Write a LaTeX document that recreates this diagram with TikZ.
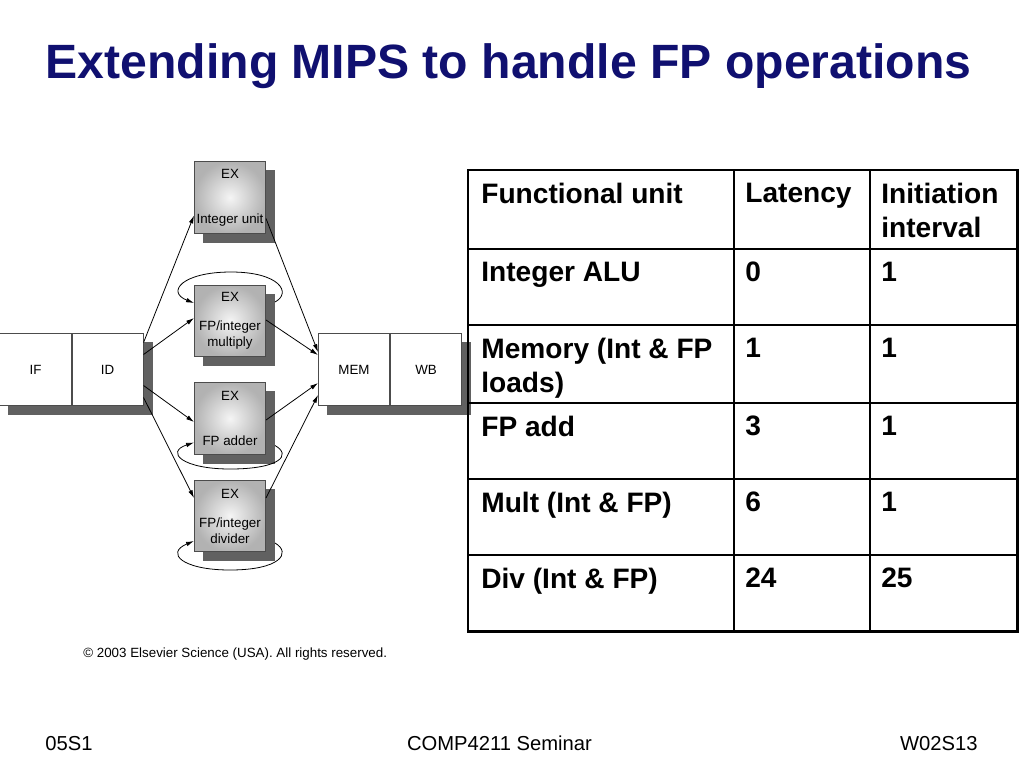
\documentclass[tikz,border=0pt]{standalone}
\usepackage{fontspec}
\setmainfont{Liberation Sans}
\usetikzlibrary{positioning,calc,backgrounds,arrows.meta}
\definecolor{titleblue}{RGB}{16,16,112}
\definecolor{shadowgray}{gray}{0.38}
\tikzset{
	stage/.style={rectangle, draw=black!70, fill=white, line width=0.5pt, minimum width=40.5pt, minimum height=40.5pt, inner sep=0pt, font=\fontsize{7.6}{9.1}\selectfont},
	exunit/.style={stage, align=center, inner color=black!4, outer color=black!30},
	flow/.style={-{Latex[length=4.5pt,width=2.6pt]}, line width=0.45pt},
	cell/.style={anchor=north west, inner sep=0pt, align=left, font=\fontsize{16}{19.3}\selectfont\bfseries},
	footer/.style={inner sep=0pt, font=\fontsize{11.5}{14}\selectfont},
}

\begin{document}
\begin{tikzpicture}[x=0.02cm, y=-0.02cm]
	\useasboundingbox (0,0) rectangle (1024,768);
	% title
	\node[anchor=base, text=titleblue, font=\fontsize{27.4}{32}\selectfont\bfseries] (title) at (508.5,78) {Extending MIPS to handle FP operations};
	% pipeline
	\node[stage] (IF) at (35.5,369.5) {IF};
	\node[stage, right=0pt of IF] (ID) {ID};
	\node[exunit] (intu) at (230,197.5) {EX\\[16.5pt]Integer unit};
	\node[exunit] (mul) at (230,321) {EX\\[7.4pt]FP/integer\\multiply};
	\node[exunit] (add) at (230,418.5) {EX\\[16.5pt]FP adder};
	\node[exunit] (div) at (230,516) {EX\\[7.4pt]FP/integer\\divider};
	\node[stage] (MEM) at (354,369.5) {MEM};
	\node[stage, right=0pt of MEM] (WB) {WB};
	% shadows
	\begin{scope}[on background layer]
		\foreach \n in {intu,mul,add,div}
			\fill[shadowgray] ($(\n.south west)+(9,9)$) rectangle ($(\n.north east)+(9,9)$);
		\fill[shadowgray] ($(IF.south west)+(9,9)$) rectangle ($(ID.north east)+(9,9)$);
		\fill[shadowgray] ($(MEM.south west)+(9,9)$) rectangle ($(WB.north east)+(9,9)$);
	\end{scope}
	% issue
	\draw[flow] ($(ID.north east)+(0,9)$) -- ($(intu.south west)+(0,-18)$);
	\draw[flow] ($(ID.north east)+(0,21)$) -- ($(mul.west)+(0,-3)$);
	\draw[flow] ($(ID.south east)+(0,-20)$) -- ($(add.west)+(0,3.5)$);
	\draw[flow] ($(ID.south east)+(0,-8)$) -- ($(div.north west)+(0,18)$);
	% to MEM
	\draw[flow] ($(intu.south east)+(0,-15)$) -- ($(MEM.west)+(0,-17.5)$);
	\draw[flow] ($(mul.east)+(0,-1)$) -- ($(MEM.west)+(0,-14.5)$);
	\draw[flow] ($(add.east)+(0,1.5)$) -- ($(MEM.west)+(0,13.5)$);
	\draw[flow] ($(div.north east)+(0,18)$) -- ($(MEM.west)+(0,25.5)$);
	% loops
	\draw[flow] ($(mul.north east)+(9,17)$) .. controls (292,293) and (280,272) .. (231,272) .. controls (182,272) and (166,292) .. ($(mul.west)+(0,-18)$);
	\draw[flow] ($(add.south east)+(9,-9)$) .. controls (292,455) and (280,469) .. (230,469) .. controls (182,469) and (165,452) .. ($(add.south west)+(0,-12)$);
	\draw[flow] ($(div.south east)+(9,-9)$) .. controls (292,553) and (280,570) .. (230,570) .. controls (182,570) and (165,553) .. ($(div.south west)+(0,-11)$);
	\node[anchor=base west, inner sep=0pt, font=\fontsize{7.6}{9.1}\selectfont] (copy) at (83,657) {\textcopyright{} 2003 Elsevier Science (USA). All rights reserved.};
	% table
	\foreach \y in {249,325,403,479,555}
		\draw[line width=0.6pt] (468,\y) -- (1017,\y);
	\foreach \x in {734,870}
		\draw[line width=0.6pt] (\x,170) -- (\x,631);
	\draw[line width=1.7pt] (468,170) rectangle (1017,631);
	\foreach \top/\unit/\lat/\ii [count=\i] in {170/Functional unit/Latency/{Initiation\\interval}, 249/Integer ALU/0/1, 325/{Memory (Int \& FP\\loads)}/1/1, 403/FP add/3/1, 479/Mult (Int \& FP)/6/1, 555/Div (Int \& FP)/24/25}{
		\node[cell] (unit\i) at (481,\top+13) {\unit};
		\node[cell] (lat\i) at (745,\top+13) {\lat};
		\node[cell] (ii\i) at (881,\top+13) {\ii};
	}
	% footer
	\node[footer, anchor=base west] (left) at (45,750) {05S1};
	\node[footer, anchor=base] (mid) at (499.5,750) {COMP4211 Seminar};
	\node[footer, anchor=base east] (right) at (978,750) {W02S13};
\end{tikzpicture}
\end{document}
